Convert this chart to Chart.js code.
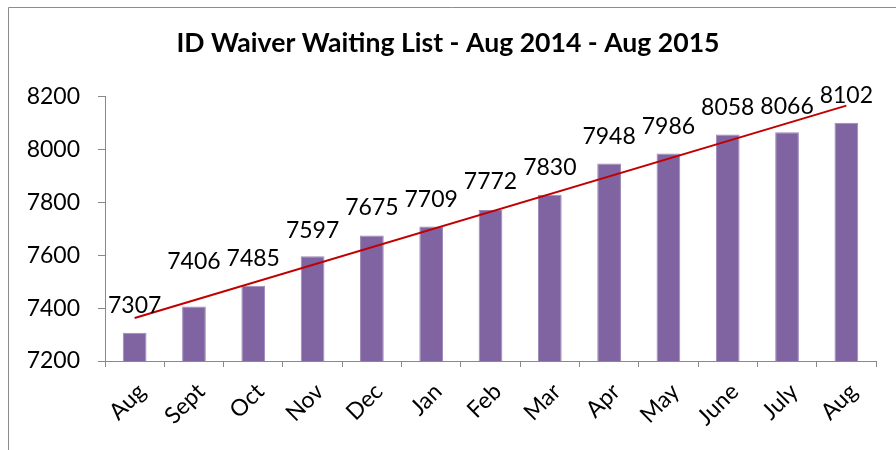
<!DOCTYPE html>
<html>
<head>
<meta charset="utf-8">
<script src="https://cdn.jsdelivr.net/npm/chart.js@4"></script>
<style>
  body { margin: 0; background: #fff; }
</style>
</head>
<body>
<canvas id="waitlist" width="896" height="450"></canvas>
<script>
const months = ["Aug","Sept","Oct","Nov","Dec","Jan","Feb","Mar","Apr","May","June","July","Aug"]
const waiting = [7307,7406,7485,7597,7675,7709,7772,7830,7948,7986,8058,8066,8102]
// linear trendline ends (first and last month)
const trendEnds = [7363, 8167]
const yTicks = [7200,7400,7600,7800,8000,8200]

// how far each value label sits above its bar (px); Sept was nudged up by hand
const labelLift = [27,45,27,26,28,27,28,27,27,27,27,26,27]

const trend = months.map((m, i) => i === 0 ? trendEnds[0] : (i === months.length - 1 ? trendEnds[1] : null))

const axisGray = "#898989"
const font = "Lato"

const frame = {
    id: "frame",
    beforeDraw(chart) {
        const ctx = chart.ctx
        ctx.save()
        ctx.strokeStyle = "#8c8c8c"
        ctx.lineWidth = 1
        ctx.beginPath()
        ctx.moveTo(8.5, 450)
        ctx.lineTo(8.5, 7.5)
        ctx.lineTo(896, 7.5)
        ctx.stroke()
        ctx.restore()
    }
}

const valueLabels = {
    id: "valueLabels",
    afterDatasetsDraw(chart) {
        const ctx = chart.ctx
        const bars = chart.getDatasetMeta(0).data
        ctx.save()
        ctx.font = "23px " + font
        ctx.fillStyle = "#000"
        ctx.textAlign = "center"
        ctx.textBaseline = "middle"
        bars.forEach((bar, i) => {
            ctx.fillText(String(waiting[i]), bar.x, bar.y - labelLift[i])
        })
        ctx.restore()
    }
}

new Chart("waitlist", {
    type: "bar",
    data: {
        labels: months,
        datasets: [
            {
                label: "waiting",
                data: waiting,
                backgroundColor: "#8064A2",
                borderColor: "#9C88B8",
                borderWidth: 1,
                barPercentage: 0.4,
                categoryPercentage: 1,
                order: 2
            },
            {
                type: "line",
                label: "trend",
                data: trend,
                spanGaps: true,
                borderColor: "#C00000",
                borderWidth: 2,
                pointRadius: 0,
                fill: false,
                order: 1
            }
        ]
    },
    options: {
        responsive: false,
        animation: false,
        layout: { padding: { left: 20, right: 20, top: 0, bottom: 0 } },
        plugins: {
            legend: { display: false },
            tooltip: { enabled: false },
            title: {
                display: true,
                text: "ID Waiver Waiting List - Aug 2014 - Aug 2015",
                color: "#000",
                font: { family: font, size: 26.6, weight: "bold" },
                padding: { top: 27, bottom: 38 }
            }
        },
        scales: {
            x: {
                grid: { display: true, drawOnChartArea: false, drawTicks: true, tickLength: 6, color: axisGray, offset: true },
                border: { display: true, color: axisGray, width: 1 },
                ticks: {
                    color: "#000",
                    font: { family: font, size: 23 },
                    minRotation: 45,
                    maxRotation: 45,
                    padding: 11,
                    labelOffset: 7
                },
                afterFit(scale) { scale.height = 89 }
            },
            y: {
                min: 7200,
                max: 8200,
                grid: { display: true, drawOnChartArea: false, drawTicks: true, tickLength: 7, color: axisGray },
                border: { display: true, color: axisGray, width: 1 },
                afterBuildTicks(scale) { scale.ticks = yTicks.map(v => ({ value: v })) },
                ticks: {
                    color: "#000",
                    font: { family: font, size: 23 },
                    padding: 18,
                    callback: v => String(v)
                },
                afterFit(scale) { scale.width = 85 }
            }
        }
    },
    plugins: [frame, valueLabels]
})
</script>
</body>
</html>
